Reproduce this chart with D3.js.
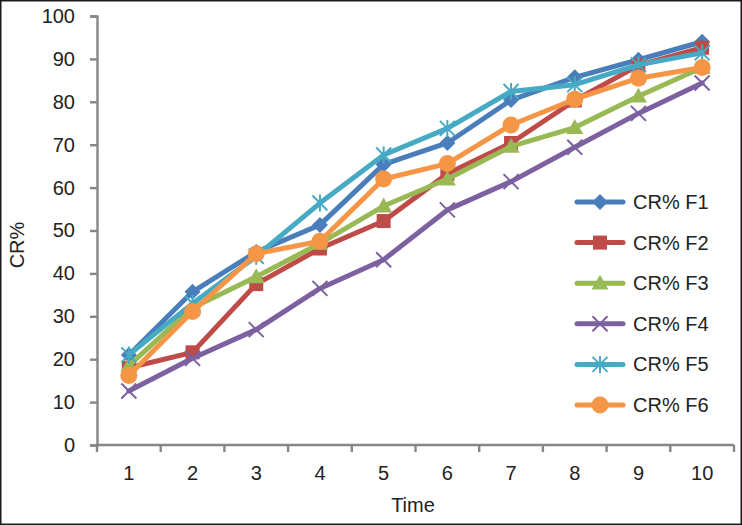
<!DOCTYPE html>
<html>
<head>
<meta charset="utf-8">
<script src="https://cdn.jsdelivr.net/npm/d3@7"></script>
<style>
html,body{margin:0;padding:0;background:#fff;}
svg{display:block;font-family:"Liberation Sans",Arial,sans-serif;}
</style>
</head>
<body>
<script>
const categories = [1,2,3,4,5,6,7,8,9,10];
const yTicks = [0,10,20,30,40,50,60,70,80,90,100];
const seriesNames = ["CR% F1","CR% F2","CR% F3","CR% F4","CR% F5","CR% F6"];
const f1 = [21, 35.7, 45, 51.3, 65.4, 70.4, 80.4, 85.7, 89.8, 94];
const f2 = [18, 21.6, 37.5, 45.8, 52.2, 63.2, 70.4, 80.3, 88.5, 92.6];
const f3 = [18.5, 32, 39.2, 47, 55.7, 62, 69.6, 74, 81.3, 88];
const f4 = [12.6, 20.2, 26.9, 36.5, 43.2, 54.8, 61.4, 69.4, 77.3, 84.4];
const f5 = [21, 33, 44, 56.4, 67.6, 73.8, 82.4, 84, 88.6, 91.4];
const f6 = [16.2, 31.1, 44.6, 47.5, 62, 65.6, 74.6, 80.6, 85.5, 88];
const seriesData = [f1,f2,f3,f4,f5,f6];
const colors = ["#4A7EBB","#BE4B48","#98B954","#7D60A0","#46AAC5","#F59646"];
const markers = ["diamond","square","triangle","x","asterisk","circle"];

const W = 742, H = 525;
const svg = d3.select("body").append("svg").attr("width",W).attr("height",H);
svg.append("rect").attr("x",0.75).attr("y",0.75).attr("width",W-1.5).attr("height",H-1.5)
  .attr("fill","#fff").attr("stroke","#1a1a1a").attr("stroke-width",1.5);

const mLeft = 97, mRight = 734, mTop = 16, mBottom = 445;
const x = d3.scaleBand().domain(categories).range([mLeft,mRight]);
const y = d3.scaleLinear().domain([0,100]).range([mBottom,mTop]);
const axisColor = "#868686";
const textColor = "#222";
const fontSize = 20;

// Y axis
const yAxis = svg.append("g").attr("transform",`translate(${mLeft},0)`)
  .call(d3.axisLeft(y).tickValues(yTicks).tickSize(7).tickPadding(15));
yAxis.select(".domain").attr("stroke",axisColor).attr("stroke-width",2.4);
yAxis.selectAll(".tick line").attr("stroke",axisColor).attr("stroke-width",2.4);
yAxis.selectAll(".tick text").attr("fill",textColor).attr("font-size",fontSize)
  .attr("font-family","'Liberation Sans',Arial,sans-serif");

// X axis with ticks at band boundaries
const xAxisG = svg.append("g").attr("transform",`translate(0,${mBottom})`);
xAxisG.append("line").attr("x1",mLeft-1.2).attr("x2",mRight).attr("y1",0).attr("y2",0)
  .attr("stroke",axisColor).attr("stroke-width",2.4);
const bounds = categories.map(c => x(c)).concat([mRight]);
xAxisG.selectAll("line.tk").data(bounds).enter().append("line").attr("class","tk")
  .attr("x1",d=>d).attr("x2",d=>d).attr("y1",0).attr("y2",7)
  .attr("stroke",axisColor).attr("stroke-width",2.4);
xAxisG.selectAll("text").data(categories).enter().append("text")
  .attr("x",d=>x(d)+x.bandwidth()/2).attr("y",35)
  .attr("text-anchor","middle").attr("font-size",fontSize).attr("fill",textColor).text(d=>d);

// Axis titles
svg.append("text").attr("x",413).attr("y",512).attr("text-anchor","middle")
  .attr("font-size",fontSize).attr("fill",textColor).text("Time");
svg.append("text").attr("transform","translate(24,245) rotate(-90)").attr("text-anchor","middle")
  .attr("font-size",fontSize).attr("fill",textColor).text("CR%");

function drawMarker(g, type, cx, cy, color){
  if(type==="diamond"){
    const r=8;
    g.append("path").attr("d",`M${cx},${cy-r}L${cx+r},${cy}L${cx},${cy+r}L${cx-r},${cy}Z`).attr("fill",color);
  } else if(type==="square"){
    const r=7;
    g.append("rect").attr("x",cx-r).attr("y",cy-r).attr("width",2*r).attr("height",2*r).attr("fill",color);
  } else if(type==="triangle"){
    const r=8.5;
    g.append("path").attr("d",`M${cx},${cy-r}L${cx+r},${cy+r*0.75}L${cx-r},${cy+r*0.75}Z`).attr("fill",color);
  } else if(type==="x"){
    const r=7.5;
    g.append("path").attr("d",`M${cx-r},${cy-r}L${cx+r},${cy+r}M${cx-r},${cy+r}L${cx+r},${cy-r}`)
      .attr("stroke",color).attr("stroke-width",2).attr("fill","none");
  } else if(type==="asterisk"){
    const r=7.5;
    g.append("path").attr("d",`M${cx-r},${cy-r}L${cx+r},${cy+r}M${cx-r},${cy+r}L${cx+r},${cy-r}M${cx},${cy-r-1}L${cx},${cy+r+1}`)
      .attr("stroke",color).attr("stroke-width",2).attr("fill","none");
  } else if(type==="circle"){
    g.append("circle").attr("cx",cx).attr("cy",cy).attr("r",8.5).attr("fill",color);
  }
}

const line = d3.line().x((d,i)=>x(categories[i])+x.bandwidth()/2).y(d=>y(d));
seriesData.forEach((vals,si)=>{
  const g = svg.append("g");
  g.append("path").attr("d",line(vals)).attr("fill","none").attr("stroke",colors[si])
    .attr("stroke-width",5).attr("stroke-linejoin","round").attr("stroke-linecap","round");
  vals.forEach((v,i)=>drawMarker(g, markers[si], x(categories[i])+x.bandwidth()/2, y(v), colors[si]));
});

// Legend
const legY0 = 202, legStep = 40.6;
seriesNames.forEach((name,si)=>{
  const g = svg.append("g");
  const cy = legY0 + si*legStep;
  g.append("line").attr("x1",577).attr("x2",623).attr("y1",cy).attr("y2",cy)
    .attr("stroke",colors[si]).attr("stroke-width",5).attr("stroke-linecap","round");
  drawMarker(g, markers[si], 600, cy, colors[si]);
  g.append("text").attr("x",633).attr("y",cy).attr("dy","0.35em").attr("font-size",fontSize)
    .attr("fill",textColor).text(name);
});
</script>
</body>
</html>
